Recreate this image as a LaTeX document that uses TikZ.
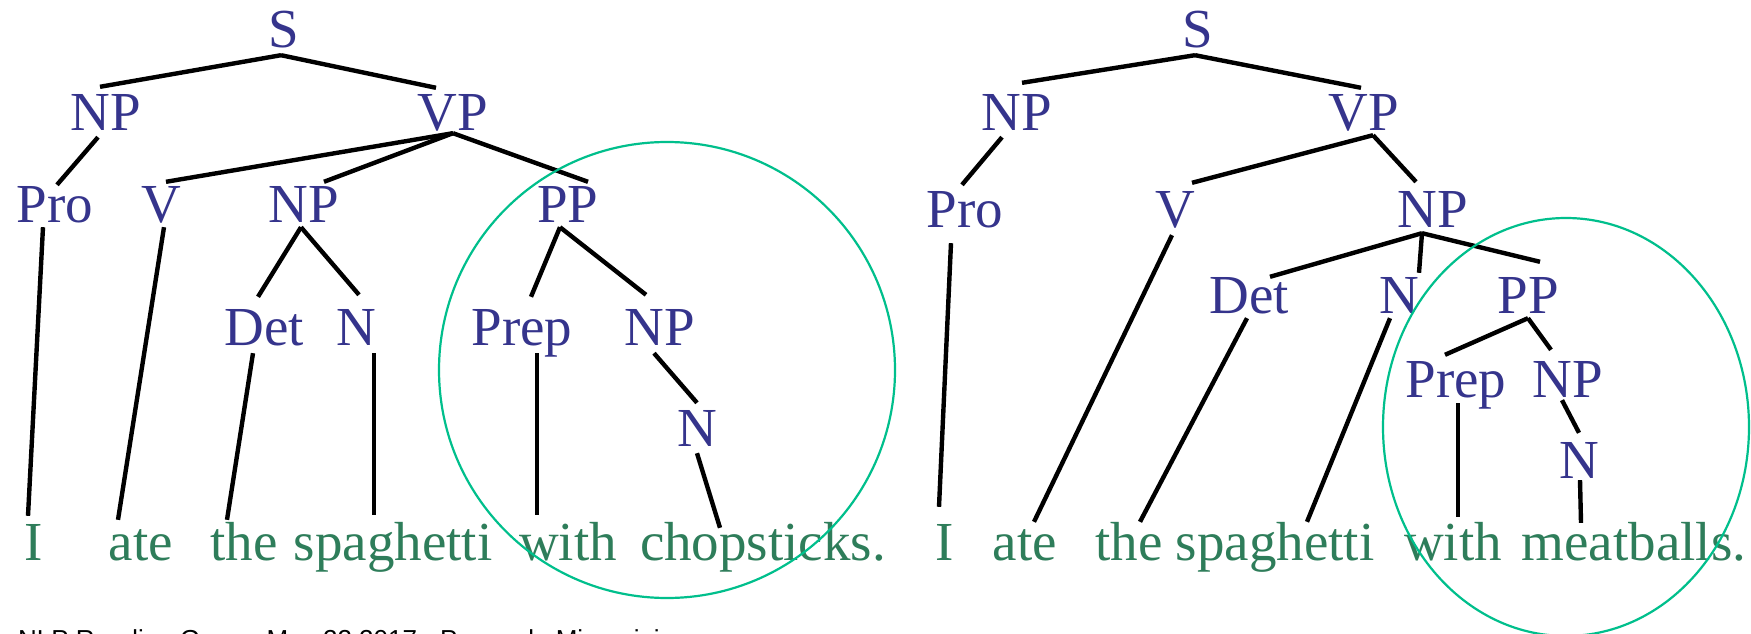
\documentclass[tikz,border=0pt]{standalone}
\usepackage{fontspec}
\setmainfont{Liberation Serif}
\newfontfamily\footfont{Liberation Sans}
\definecolor{labc}{HTML}{35348C}
\definecolor{wrdc}{HTML}{2E7D5A}
\definecolor{ringc}{HTML}{00BF8C}
\newcommand\tl[4]{\draw[tedge] ([shift={(#2)}]#1.south) -- ([shift={(#4)}]#3.north);}
\begin{document}
\begin{tikzpicture}[x=1pt,y=-1pt,
  lab/.style={anchor=base, text=labc, font=\fontsize{55}{62}\selectfont, inner xsep=0pt, inner ysep=6pt, text height=36pt, text depth=0pt},
  wrd/.style={anchor=base, text=wrdc, font=\fontsize{55}{62}\selectfont, inner xsep=0pt, inner ysep=6pt, text height=36pt, text depth=0pt},
  tedge/.style={line width=4.4pt, black},
  ring/.style={draw=ringc, line width=2.2pt}]
\fill[white] (0,0) rectangle (1751,634);
\useasboundingbox (0,0) rectangle (1751,634);
% ---------- left tree ----------
\node[lab] (lS) at (284,48) {S};
\node[lab] (lNP) at (106,130) {NP};
\node[lab] (lVP) at (453,130) {VP};
\node[lab] (lPro) at (55,222) {Pro};
\node[lab] (lV) at (161,222) {V};
\node[lab] (lNP2) at (304,222) {NP};
\node[lab] (lPP) at (568,222) {PP};
\node[lab] (lDet) at (264,345) {Det};
\node[lab] (lN) at (356,345) {N};
\node[lab] (lPrep) at (522,345) {Prep};
\node[lab] (lNP3) at (660,345) {NP};
\node[lab] (lN2) at (697,446) {N};
\node[wrd] (lw1) at (34,560) {I};
\node[wrd] (lw2) at (141,560) {ate};
\node[wrd] (lw3) at (244,560) {the};
\node[wrd] (lw4) at (393,560) {spaghetti};
\node[wrd] (lw5) at (568,560) {with};
\node[wrd] (lw6) at (763,560) {chopsticks.};
\tl{lS}{-3,1}{lNP}{-6,-1}
\tl{lS}{-3,1}{lVP}{-17,0}
\tl{lNP}{-8,1}{lPro}{2,5}
\tl{lVP}{0,-3}{lV}{5,2}
\tl{lVP}{0,-3}{lNP2}{20,2}
\tl{lVP}{0,-3}{lPP}{20,2}
\tl{lPro}{-12,-1}{lw1}{-6,-2}
\tl{lV}{3,-1}{lw2}{-23,2}
\tl{lNP2}{-3,-1}{lDet}{-6,-6}
\tl{lNP2}{-3,-1}{lN}{3,-8}
\tl{lDet}{-11,2}{lw3}{-17,2}
\tl{lN}{18,2}{lw4}{-19,-3}
\tl{lPP}{-8,-1}{lPrep}{9,-6}
\tl{lPP}{-8,-1}{lNP3}{-14,-8}
\tl{lPrep}{15,2}{lw5}{-31,-3}
\tl{lNP3}{-6,2}{lN2}{0,-1}
\tl{lN2}{0,1}{lw6}{-43,10}
% ---------- right tree ----------
\node[lab] (rS) at (1198,48) {S};
\node[lab] (rNP) at (1017,130) {NP};
\node[lab] (rVP) at (1364,130) {VP};
\node[lab] (rPro) at (965,227) {Pro};
\node[lab] (rV) at (1175,227) {V};
\node[lab] (rNP2) at (1433,227) {NP};
\node[lab] (rDet) at (1249,313) {Det};
\node[lab] (rN) at (1399,313) {N};
\node[lab] (rPP) at (1528,313) {PP};
\node[lab] (rPrep) at (1456,397) {Prep};
\node[lab] (rNP3) at (1568,397) {NP};
\node[lab] (rN2) at (1579,478) {N};
\node[wrd] (rw1) at (945,560) {I};
\node[wrd] (rw2) at (1025,560) {ate};
\node[wrd] (rw3) at (1129,560) {the};
\node[wrd] (rw4) at (1275,560) {spaghetti};
\node[wrd] (rw5) at (1453,560) {with};
\node[wrd] (rw6) at (1634,560) {meatballs.};
\tl{rS}{-3,1}{rNP}{5,-5}
\tl{rS}{-3,1}{rVP}{-3,0}
\tl{rNP}{-15,1}{rPro}{-3,0}
\tl{rVP}{9,-1}{rV}{17,-2}
\tl{rVP}{9,-1}{rNP2}{-17,-3}
\tl{rPro}{-14,10}{rw1}{-6,-11}
\tl{rV}{-3,2}{rw2}{9,4}
\tl{rNP2}{-11,0}{rDet}{21,6}
\tl{rNP2}{-11,0}{rN}{20,2}
\tl{rNP2}{-11,0}{rPP}{12,-9}
\tl{rDet}{-2,-1}{rw3}{11,4}
\tl{rN}{-9,-1}{rw4}{32,4}
\tl{rPP}{0,-1}{rPrep}{-11,0}
\tl{rPP}{0,-1}{rNP3}{-17,-5}
\tl{rPrep}{2,0}{rw5}{5,-1}
\tl{rNP3}{-6,-3}{rN2}{0,-3}
\tl{rN2}{1,-4}{rw6}{-53,5}
% ---------- highlight rings ----------
\draw[ring] (667,370) circle [radius=228];
\draw[ring] (1566,427) ellipse [x radius=183, y radius=209];
% ---------- footer (cut off by the lower edge, as in the reference) ----------
\node[anchor=base west, inner sep=0pt, font=\footfont\fontsize{26}{30}\selectfont] (foot) at (18,648) {NLP Reading Group, May 22 2017 - Pasquale Minervini};
\end{tikzpicture}
\end{document}
